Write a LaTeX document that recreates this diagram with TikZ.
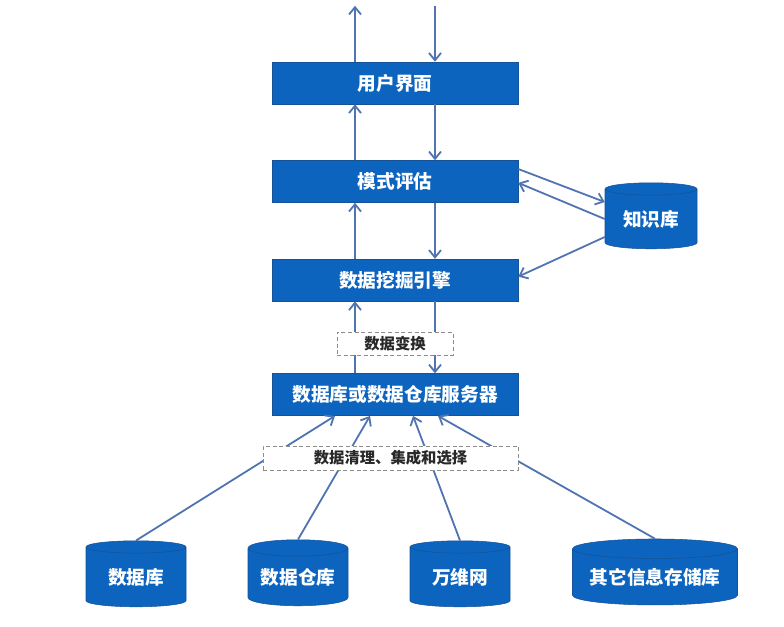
\documentclass[tikz,border=0pt]{standalone}
\usepackage{fontspec}
\setmainfont{Noto Sans CJK SC}
\usetikzlibrary{shapes.geometric, arrows.meta, positioning}
\definecolor{boxblue}{RGB}{12,100,190}
\definecolor{boxedge}{RGB}{22,82,150}
\definecolor{arrowblue}{RGB}{80,115,178}
\definecolor{dashgray}{RGB}{140,140,140}
\definecolor{labelgray}{RGB}{40,40,40}
\begin{document}
\begin{tikzpicture}[
        x=0.75pt, y=-0.75pt,
        node distance=42pt,
        box/.style={draw=boxedge, fill=boxblue, text=white, font=\bfseries\fontsize{14}{16}\selectfont, minimum width=184.5pt, minimum height=31.5pt, inner sep=0pt},
        dbcyl/.style={cylinder, shape border rotate=90, aspect=0.22, draw=boxedge, fill=boxblue, text=white, font=\bfseries\fontsize{14}{16}\selectfont, minimum width=75pt, minimum height=49.5pt, inner sep=0pt},
        note/.style={draw=dashgray, dash pattern=on 3pt off 2pt, fill=white, text=labelgray, font=\bfseries\fontsize{11.5}{13}\selectfont, inner sep=0pt},
        arr/.style={-{Straight Barb[length=5.5pt, width=9pt]}, draw=arrowblue, line width=1.35pt}
        ]
        \useasboundingbox (0,0) rectangle (784,626);
        \node[box] (ui) at (395,83) {用户界面};
        \node[box, below=42pt of ui] (eval) {模式评估};
        \node[box, below=42pt of eval] (mine) {数据挖掘引擎};
        \node[box, below=54pt of mine] (server) {数据库或数据仓库服务器};
        \node[dbcyl, minimum width=69pt] (kb) at (651,219) {知识库};
        \node[dbcyl] (db) at (136,577) {数据库};
        \node[dbcyl] (dw) at (298,577) {数据仓库};
        \node[dbcyl] (www) at (460,577) {万维网};
        \node[dbcyl, minimum width=123.75pt, aspect=0.15] (other) at (655,577) {其它信息存储库};
        \coordinate (topL) at ([xshift=-30pt, yshift=42pt]ui.north);
        \coordinate (topR) at ([xshift=30pt, yshift=42pt]ui.north);
        \draw[arr] ([xshift=-30pt]ui.north) -- (topL);
        \draw[arr] (topR) -- ([xshift=30pt]ui.north);
        \draw[arr] ([xshift=-30pt]eval.north) -- ([xshift=-30pt]ui.south);
        \draw[arr] ([xshift=30pt]ui.south) -- ([xshift=30pt]eval.north);
        \draw[arr] ([xshift=-30pt]mine.north) -- ([xshift=-30pt]eval.south);
        \draw[arr] ([xshift=30pt]eval.south) -- ([xshift=30pt]mine.north);
        \draw[arr] ([xshift=-30pt]server.north) -- ([xshift=-30pt]mine.south);
        \draw[arr] ([xshift=30pt]mine.south) -- ([xshift=30pt]server.north);
        \draw[arr] ([yshift=9.4pt]eval.east) -- ([yshift=12.75pt]kb.west);
        \draw[arr] (kb.west) -- ([yshift=-1pt]eval.east);
        \draw[arr] ([yshift=-13.5pt]kb.west) -- ([yshift=2.6pt]mine.east);
        \draw[arr] (db.north) -- ([xshift=-45pt]server.south);
        \draw[arr] (dw.north) -- ([xshift=-18.75pt]server.south);
        \draw[arr] (www.north) -- ([xshift=13.5pt]server.south);
        \draw[arr] (other.north) -- ([xshift=32.25pt]server.south);
        \node[note, minimum width=87pt, minimum height=17.25pt] (trans) at (395,343.5) {数据变换};
        \node[note, minimum width=191pt, minimum height=18pt] (clean) at (390.5,458) {数据清理、集成和选择};
\end{tikzpicture}
\end{document}
